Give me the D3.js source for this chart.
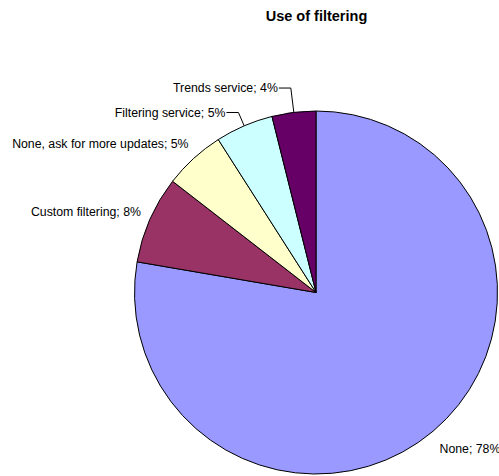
<!DOCTYPE html>
<html>
<head>
<meta charset="utf-8">
<script src="https://cdn.jsdelivr.net/npm/d3@7"></script>
<style>
  html, body { margin: 0; padding: 0; background: #fff; }
  svg { display: block; }
  text { font-family: Arial, "Liberation Sans", sans-serif; fill: #000; }
</style>
</head>
<body>
<svg id="chart" width="499" height="476"></svg>
<script>
// ---- data ----
const categories = ["None", "Custom filtering", "None, ask for more updates", "Filtering service", "Trends service"];
const values = [77.7, 7.8, 5.45, 5.15, 3.9];
const colors = ["#9999FF", "#993366", "#FFFFCC", "#CCFFFF", "#660066"];
const title = "Use of filtering";

// ---- layout (label placement, not data) ----
const W = 499, H = 476;
const cx = 316, cy = 292.5, r = 181.5;
const labelRadius = [204, 200, 201, 196, 206];
const useLeader = [false, false, false, true, true];

const svg = d3.select("#chart");

svg.append("text")
  .attr("x", 316.5).attr("y", 20.5)
  .attr("text-anchor", "middle")
  .style("font-size", "14.5px").style("font-weight", "bold")
  .text(title);

const data = categories.map((c, i) => ({ name: c, value: values[i], color: colors[i], i }));
const total = d3.sum(values);

const pie = d3.pie().value(d => d.value).sort(null);
const arcs = pie(data);
const arc = d3.arc().innerRadius(0).outerRadius(r);

const g = svg.append("g").attr("transform", `translate(${cx},${cy})`);

g.selectAll("path.slice")
  .data(arcs)
  .join("path")
  .attr("class", "slice")
  .attr("d", arc)
  .attr("fill", d => d.data.color)
  .attr("stroke", "#000")
  .attr("stroke-width", 1)
  .attr("stroke-linejoin", "round");

const fmt = v => Math.round(v / total * 100) + "%";

arcs.forEach(d => {
  const i = d.data.i;
  const mid = (d.startAngle + d.endAngle) / 2;
  const R = labelRadius[i];
  const px = Math.sin(mid) * R, py = -Math.cos(mid) * R;
  const left = Math.sin(mid) < 0;
  const label = d.data.name + "; " + fmt(d.value);
  if (useLeader[i]) {
    const ex = Math.sin(mid) * r, ey = -Math.cos(mid) * r;
    const tx = px - 13;
    g.append("path")
      .attr("d", `M${tx + 1},${py}L${px},${py}L${ex},${ey}`)
      .attr("fill", "none")
      .attr("stroke", "#000")
      .attr("stroke-width", 1);
    g.append("text")
      .attr("x", tx).attr("y", py).attr("dy", "0.35em")
      .attr("text-anchor", "end")
      .style("font-size", "12.3px")
      .text(label);
  } else {
    g.append("text")
      .attr("x", left ? px + 8 : px - 8).attr("y", py).attr("dy", "0.35em")
      .attr("text-anchor", left ? "end" : "start")
      .style("font-size", "12.3px")
      .text(label);
  }
});
</script>
</body>
</html>
